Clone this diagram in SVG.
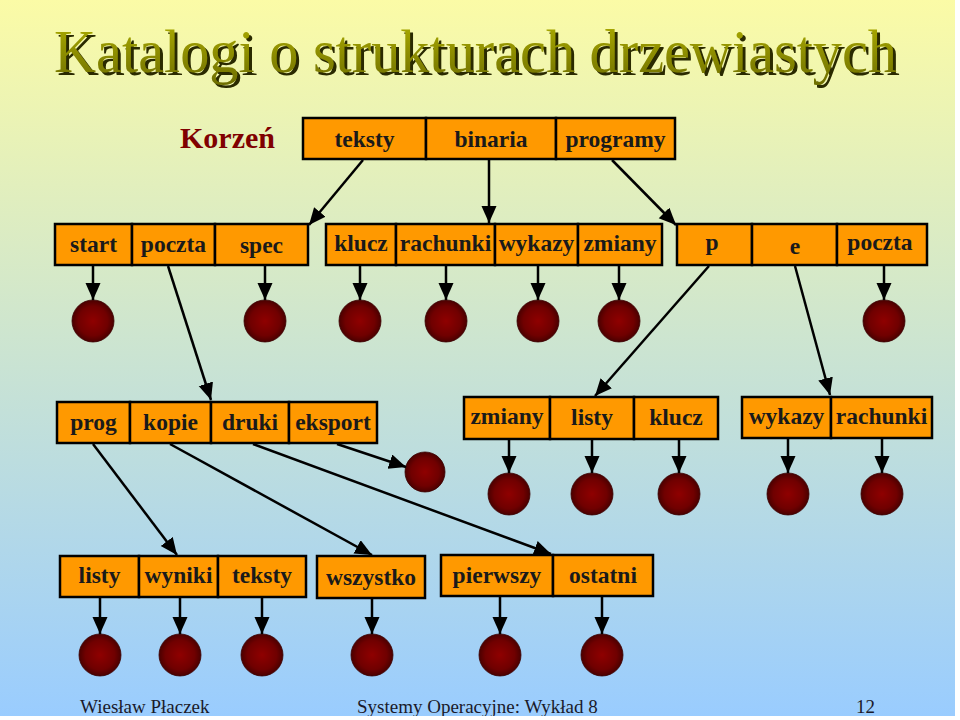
<svg xmlns="http://www.w3.org/2000/svg" width="960" height="720" viewBox="0 0 960 720">
<defs>
<linearGradient id="bg" x1="0" y1="0" x2="0" y2="1">
<stop offset="0" stop-color="#FBFBA6"/>
<stop offset="1" stop-color="#99CCFF"/>
</linearGradient>
<linearGradient id="tg" x1="0" y1="0" x2="0" y2="1">
<stop offset="0" stop-color="#B0B000"/>
<stop offset="1" stop-color="#6E6E00"/>
</linearGradient>
<radialGradient id="ball" cx="0.5" cy="0.5" r="0.5">
<stop offset="0" stop-color="#8F0000"/>
<stop offset="0.7" stop-color="#700000"/>
<stop offset="1" stop-color="#4A0000"/>
</radialGradient>
<filter id="shadow" x="-5%" y="-20%" width="110%" height="140%">
<feOffset in="SourceAlpha" dx="3" dy="3" result="off"/>
<feFlood flood-color="#2a2a00"/>
<feComposite in2="off" operator="in" result="sh"/>
<feMerge><feMergeNode in="sh"/><feMergeNode in="SourceGraphic"/></feMerge>
</filter>
<marker id="ah" markerUnits="userSpaceOnUse" markerWidth="18" markerHeight="16" refX="17" refY="7.5" orient="auto">
<path d="M0,0 L17,7.5 L0,15 z" fill="#000"/>
</marker>
</defs>
<style>
.cell{fill:#FF9900;stroke:#000;stroke-width:2.5}
.lbl{font-family:"Liberation Serif","Times New Roman",serif;font-weight:bold;font-size:23.5px;fill:#1a1a1a;text-anchor:middle}
.ball{fill:url(#ball);stroke:#3a0000;stroke-width:0.8}
.conn line{stroke:#000;stroke-width:2.5;marker-end:url(#ah)}
.foot{font-family:"Liberation Serif","Times New Roman",serif;font-size:19px;fill:#1a1a2a}
</style>
<rect x="0" y="0" width="960" height="720" fill="url(#bg)"/>
<g id="title">
<text x="54" y="72" font-family="Liberation Serif, serif" font-size="62" fill="url(#tg)" filter="url(#shadow)" textLength="843" lengthAdjust="spacingAndGlyphs">Katalogi o strukturach drzewiastych</text>
</g>
<g id="korzen">
<text x="180" y="148" font-family="Liberation Serif, serif" font-weight="bold" font-size="30" fill="#800000">Korzeń</text>
</g>
<g id="root">
<rect class="cell" x="303" y="118" width="123" height="41"/>
<rect class="cell" x="426" y="118" width="130" height="41"/>
<rect class="cell" x="556" y="118" width="119" height="41"/>
<text class="lbl" x="364.5" y="147">teksty</text>
<text class="lbl" x="491" y="147">binaria</text>
<text class="lbl" x="615.5" y="147">programy</text>
</g>
<g id="dir-teksty">
<rect class="cell" x="55" y="224" width="77" height="41"/>
<rect class="cell" x="132" y="224" width="83" height="41"/>
<rect class="cell" x="215" y="224" width="93" height="41"/>
<text class="lbl" x="93.5" y="252">start</text>
<text class="lbl" x="173.5" y="252">poczta</text>
<text class="lbl" x="261.5" y="253">spec</text>
</g>
<g id="dir-binaria">
<rect class="cell" x="326" y="224" width="70" height="41"/>
<rect class="cell" x="396" y="224" width="99" height="41"/>
<rect class="cell" x="495" y="224" width="83" height="41"/>
<rect class="cell" x="578" y="224" width="84" height="41"/>
<text class="lbl" x="361" y="251">klucz</text>
<text class="lbl" x="445.5" y="251">rachunki</text>
<text class="lbl" x="536.5" y="251">wykazy</text>
<text class="lbl" x="620" y="251">zmiany</text>
</g>
<g id="dir-programy">
<rect class="cell" x="677" y="224" width="75" height="41"/>
<rect class="cell" x="752" y="224" width="85" height="41"/>
<rect class="cell" x="837" y="224" width="90" height="41"/>
<text class="lbl" x="712" y="250">p</text>
<text class="lbl" x="795" y="254">e</text>
<text class="lbl" x="880" y="250">poczta</text>
</g>
<g id="dir-poczta">
<rect class="cell" x="57" y="402" width="73" height="41"/>
<rect class="cell" x="130" y="402" width="81" height="41"/>
<rect class="cell" x="211" y="402" width="78" height="41"/>
<rect class="cell" x="289" y="402" width="88" height="41"/>
<text class="lbl" x="93.5" y="430">prog</text>
<text class="lbl" x="170.5" y="430">kopie</text>
<text class="lbl" x="250" y="430">druki</text>
<text class="lbl" x="333" y="430">eksport</text>
</g>
<g id="dir-p">
<rect class="cell" x="464" y="397" width="86" height="42"/>
<rect class="cell" x="550" y="397" width="84" height="42"/>
<rect class="cell" x="634" y="397" width="84" height="42"/>
<text class="lbl" x="507" y="424">zmiany</text>
<text class="lbl" x="592" y="425">listy</text>
<text class="lbl" x="676" y="425">klucz</text>
</g>
<g id="dir-e">
<rect class="cell" x="742" y="397" width="89" height="41"/>
<rect class="cell" x="831" y="397" width="101" height="41"/>
<text class="lbl" x="786.5" y="424">wykazy</text>
<text class="lbl" x="881.5" y="424">rachunki</text>
</g>
<g id="dir-prog">
<rect class="cell" x="60" y="556" width="79" height="41"/>
<rect class="cell" x="139" y="556" width="79" height="41"/>
<rect class="cell" x="218" y="556" width="88" height="41"/>
<text class="lbl" x="99.5" y="583">listy</text>
<text class="lbl" x="178.5" y="583">wyniki</text>
<text class="lbl" x="262" y="583">teksty</text>
</g>
<g id="dir-kopie">
<rect class="cell" x="317" y="556" width="108" height="42"/>
<text class="lbl" x="371" y="585">wszystko</text>
</g>
<g id="dir-druki">
<rect class="cell" x="441" y="555" width="112" height="41"/>
<rect class="cell" x="553" y="555" width="100" height="41"/>
<text class="lbl" x="497" y="583">pierwszy</text>
<text class="lbl" x="603" y="583">ostatni</text>
</g>
<g id="files">
<circle class="ball" cx="93" cy="321" r="21"/>
<circle class="ball" cx="265" cy="321" r="21"/>
<circle class="ball" cx="360" cy="321" r="21"/>
<circle class="ball" cx="446" cy="321" r="21"/>
<circle class="ball" cx="538" cy="321" r="21"/>
<circle class="ball" cx="619" cy="321" r="21"/>
<circle class="ball" cx="884" cy="321" r="21"/>
<circle class="ball" cx="425" cy="472" r="20"/>
<circle class="ball" cx="509" cy="494" r="21"/>
<circle class="ball" cx="592" cy="494" r="21"/>
<circle class="ball" cx="679" cy="494" r="21"/>
<circle class="ball" cx="788" cy="494" r="21"/>
<circle class="ball" cx="882" cy="494" r="21"/>
<circle class="ball" cx="100" cy="655" r="21"/>
<circle class="ball" cx="180" cy="655" r="21"/>
<circle class="ball" cx="262" cy="655" r="21"/>
<circle class="ball" cx="372" cy="655" r="21"/>
<circle class="ball" cx="500" cy="655" r="21"/>
<circle class="ball" cx="602" cy="655" r="21"/>
</g>
<g class="conn" id="connectors">
<line x1="363" y1="160" x2="309" y2="225"/>
<line x1="489" y1="160" x2="489" y2="223"/>
<line x1="612" y1="160" x2="676" y2="225"/>
<line x1="93" y1="266" x2="93" y2="300"/>
<line x1="265" y1="266" x2="265" y2="300"/>
<line x1="360" y1="266" x2="360" y2="300"/>
<line x1="446" y1="266" x2="446" y2="300"/>
<line x1="538" y1="266" x2="538" y2="300"/>
<line x1="619" y1="266" x2="619" y2="300"/>
<line x1="884" y1="266" x2="884" y2="300"/>
<line x1="168" y1="266" x2="211" y2="400"/>
<line x1="709" y1="266" x2="595" y2="396"/>
<line x1="795" y1="266" x2="830" y2="395"/>
<line x1="337" y1="444" x2="406" y2="467"/>
<line x1="93" y1="444" x2="177" y2="555"/>
<line x1="170" y1="444" x2="372" y2="555"/>
<line x1="253" y1="444" x2="551" y2="554"/>
<line x1="509" y1="440" x2="509" y2="473"/>
<line x1="592" y1="440" x2="592" y2="473"/>
<line x1="679" y1="440" x2="679" y2="473"/>
<line x1="788" y1="439" x2="788" y2="473"/>
<line x1="882" y1="439" x2="882" y2="473"/>
<line x1="100" y1="598" x2="100" y2="634"/>
<line x1="180" y1="598" x2="180" y2="634"/>
<line x1="262" y1="598" x2="262" y2="634"/>
<line x1="372" y1="599" x2="372" y2="634"/>
<line x1="500" y1="597" x2="500" y2="634"/>
<line x1="602" y1="597" x2="602" y2="634"/>
</g>
<g id="footer">
<text class="foot" x="80" y="713">Wiesław Płaczek</text>
<text class="foot" x="357" y="713">Systemy Operacyjne: Wykład 8</text>
<text class="foot" x="856" y="713">12</text>
</g>
<rect x="955" y="0" width="5" height="720" fill="#FFFFFF"/>
<rect x="0" y="716" width="960" height="4" fill="#FFFFFF"/>
</svg>
